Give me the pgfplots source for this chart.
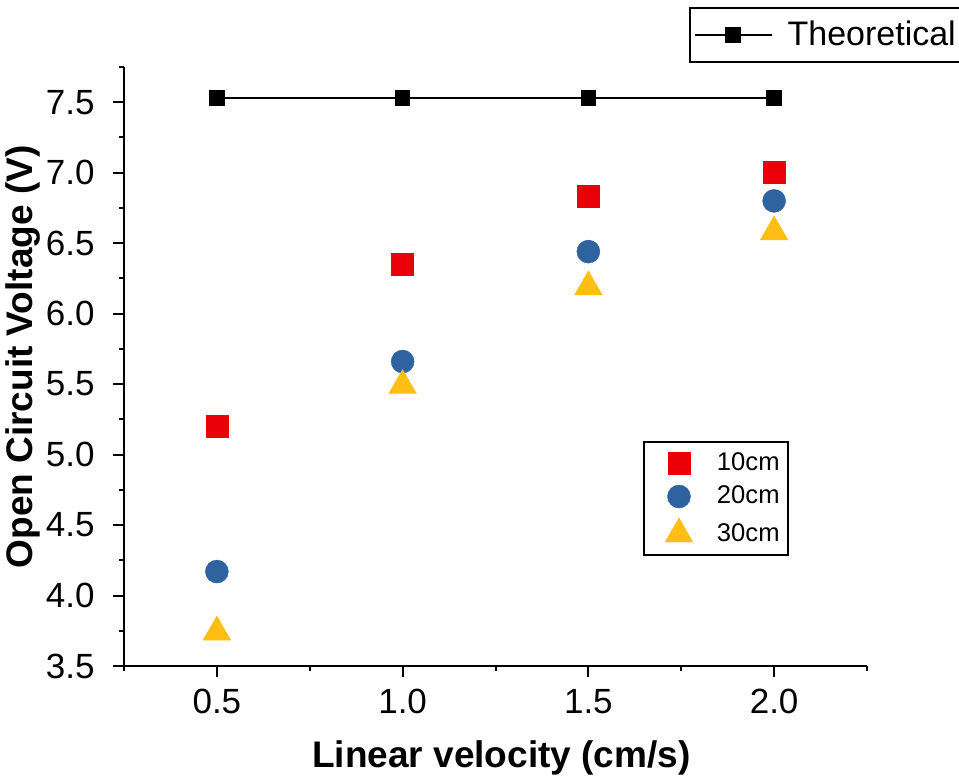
\documentclass[border=0pt]{standalone}
\usepackage{fontspec}
\setmainfont{Liberation Sans}
\usepackage{pgfplots}
\pgfplotsset{compat=1.18}
\definecolor{cRed}{RGB}{234,0,8}
\definecolor{cBlue}{RGB}{47,99,160}
\definecolor{cYel}{RGB}{255,190,20}
\begin{document}
\begin{tikzpicture}
\pgfplotsset{
  common/.style={
    scale only axis, width=371.5pt, height=299.5pt,
    xmin=0.25, xmax=2.25, ymin=3.5, ymax=7.75,
    clip=false,
  },
}
\begin{axis}[common,
  axis x line=bottom, axis y line=left,
  axis line style={-, line width=1pt, black},
  tick align=outside,
  major tick length=5.5pt, minor tick length=2.5pt,
  every tick/.style={black, line width=1pt},
  xtick={0.5,1.0,1.5,2.0}, minor xtick={0.25,0.75,1.25,1.75,2.25},
  ytick={3.5,4.0,...,7.5}, minor ytick={3.75,4.25,...,7.75},
  /pgf/number format/assume math mode=true,
  /pgf/number format/.cd, fixed, fixed zerofill, precision=1, /pgfplots/.cd,
  tick label style={font=\fontsize{17.5}{20}\selectfont},
  xticklabel style={anchor=north, inner sep=0pt, yshift=-6pt},
  yticklabel style={anchor=east, inner sep=0pt, xshift=-9pt},
  xlabel={Linear velocity (cm/s)},
  ylabel={Open Circuit Voltage (V)},
  every axis x label/.style={at={(axis description cs:0.508,0)}, anchor=center, yshift=-46pt, font=\bfseries\fontsize{18.5}{21}\selectfont},
  every axis y label/.style={at={(axis description cs:0,0.516)}, anchor=center, rotate=90, yshift=50.5pt, font=\bfseries\fontsize{18.5}{21}\selectfont},
  legend style={at={(0.6985,0.3756)}, anchor=north west, draw=black, line width=1pt,
    inner xsep=4pt, inner ysep=4.5pt, row sep=4.75pt, column sep=8.5pt,
    font=\fontsize{12.8}{15}\selectfont,
    nodes={inner sep=0pt, anchor=west}},
  legend image code/.code={\path[draw=none, fill=none] (-13.5pt,-6pt) rectangle (10.5pt,6pt); \draw plot coordinates {(0pt,0pt)};},
]
\addplot[only marks, mark=square*, mark size=5.5pt, mark options={fill=cRed, draw=cRed, line width=0.2pt}]
  coordinates {(0.5,5.20) (1.0,6.35) (1.5,6.83) (2.0,7.00)};
\addlegendentry{10cm}
\addplot[only marks, mark=*, mark size=5.75pt, mark options={fill=cBlue, draw=cBlue, line width=0.2pt}]
  coordinates {(0.5,4.17) (1.0,5.66) (1.5,6.44) (2.0,6.80)};
\addlegendentry{20cm}
\addplot[only marks, mark=triangle*, mark size=8pt, mark options={fill=cYel, draw=cYel, line width=0.2pt}]
  coordinates {(0.5,3.74) (1.0,5.49) (1.5,6.19) (2.0,6.58)};
\addlegendentry{30cm}
\end{axis}
\begin{axis}[common, hide axis,
  legend style={at={(0.7604,1.1002)}, anchor=north west, draw=black, line width=1pt,
    inner xsep=2pt, inner ysep=6.5pt, column sep=7.5pt,
    font=\fontsize{17}{20}\selectfont,
    nodes={inner sep=0pt, anchor=west}},
  legend image code/.code={\path[draw=none, fill=none] (0pt,-7pt) rectangle (38.5pt,7pt); \draw[mark repeat=2, mark phase=2] plot coordinates {(0pt,0pt) (19.25pt,0pt) (38.5pt,0pt)};},
]
\addplot[black, line width=0.8pt, mark=square*, mark size=3.5pt, mark options={fill=black, solid}]
  coordinates {(0.5,7.53) (1.0,7.53) (1.5,7.53) (2.0,7.53)};
\addlegendentry{Theoretical}
\end{axis}
\pgfresetboundingbox
\path[use as bounding box] (-62pt,-56.5pt) rectangle (417.5pt,333pt);
\end{tikzpicture}
\end{document}
